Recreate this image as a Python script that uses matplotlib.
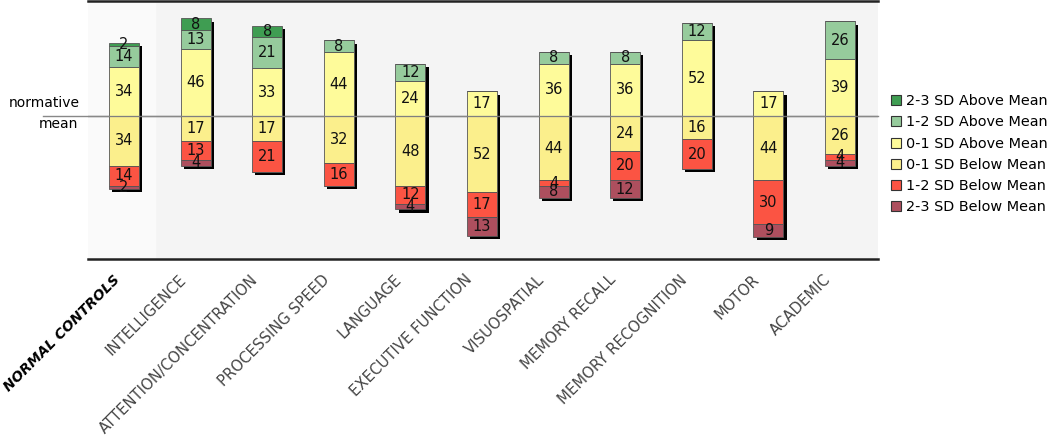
import matplotlib
matplotlib.use("Agg")
import matplotlib.pyplot as plt
from matplotlib.patches import Patch

# domains (first one is the control group)
domains = ["NORMAL CONTROLS", "INTELLIGENCE", "ATTENTION/CONCENTRATION",
           "PROCESSING SPEED", "LANGUAGE", "EXECUTIVE FUNCTION", "VISUOSPATIAL",
           "MEMORY RECALL", "MEMORY RECOGNITION", "MOTOR", "ACADEMIC"]

# percent of people in each band, above the mean
above_0_1 = [34, 46, 33, 44, 24, 17, 36, 36, 52, 17, 39]
above_1_2 = [14, 13, 21, 8, 12, 0, 8, 8, 12, 0, 26]
above_2_3 = [2, 8, 8, 0, 0, 0, 0, 0, 0, 0, 0]
# and below the mean
below_0_1 = [34, 17, 17, 32, 48, 52, 44, 24, 16, 44, 26]
below_1_2 = [14, 13, 21, 16, 12, 17, 4, 20, 20, 30, 4]
below_2_3 = [2, 4, 0, 0, 4, 13, 8, 12, 0, 9, 4]

labels = ["2-3 SD Above Mean", "1-2 SD Above Mean", "0-1 SD Above Mean",
          "0-1 SD Below Mean", "1-2 SD Below Mean", "2-3 SD Below Mean"]
colors = ["#3f9d52", "#96cb9c", "#fefb9a", "#fbef8c", "#fb5443", "#ad4f5e"]

plt.rcParams['font.family'] = ['DejaVu Sans']

fig = plt.figure(figsize=(10.5, 4.43), dpi=100)
ax = fig.add_axes([88/1050, 1-259/443, 790/1050, 258/443])
ax.set_facecolor("#f4f4f4")
ax.set_xlim(-0.503, 10.53)
ax.set_ylim(-98, 79)
ax.axvspan(-0.503, 0.43, color="#fafafa", zorder=0)

x = list(range(len(domains)))
w = 0.42
dx, dy = 0.045, 2.2

ax.plot([-0.057, 1], [0, 0], color="#888888", lw=1,
        transform=ax.get_yaxis_transform(), clip_on=False, zorder=1)

# drop shadows
tops = [a + b + c for a, b, c in zip(above_0_1, above_1_2, above_2_3)]
bots = [a + b + c for a, b, c in zip(below_0_1, below_1_2, below_2_3)]
ax.bar([i + dx for i in x], [t + b for t, b in zip(tops, bots)], w,
       bottom=[-b - dy for b in bots], color="black", zorder=2)

def stack(vals_list, sign, cols):
    base = [0] * len(x)
    for vals, c in zip(vals_list, cols):
        h = [sign * v for v in vals]
        ax.bar(x, h, w, bottom=base, color=c, edgecolor="#555555",
               linewidth=0.6, zorder=3)
        for i, v in enumerate(vals):
            if v > 0:
                ax.text(i, base[i] + sign * v / 2, str(v), ha="center",
                        va="center", fontsize=10.5, color="#111111", zorder=4)
        base = [b + hh for b, hh in zip(base, h)]

stack([above_0_1, above_1_2, above_2_3], 1, [colors[2], colors[1], colors[0]])
stack([below_0_1, below_1_2, below_2_3], -1, [colors[3], colors[4], colors[5]])

ax.axhline(0, color="#888888", lw=1, zorder=3.5, alpha=0.8)

for s in ["left", "right"]:
    ax.spines[s].set_visible(False)
for s in ["top", "bottom"]:
    ax.spines[s].set_linewidth(1.8)
    ax.spines[s].set_color("#222222")
ax.set_yticks([])
ax.set_xticks([])

for i, d in enumerate(domains):
    if i == 0:
        ax.text(i - 0.16, -107, d, rotation=45, ha="right", va="top",
                rotation_mode="anchor", fontsize=10.1, fontweight="bold",
                style="italic", color="black")
    else:
        ax.text(i - 0.24, -107, d, rotation=45, ha="right", va="top",
                rotation_mode="anchor", fontsize=10.7, color="#444444")

fig.text(80/1050, 1-103/443, "normative", ha="right", va="center", fontsize=10)
fig.text(78/1050, 1-124/443, "mean", ha="right", va="center", fontsize=10)

handles = [Patch(facecolor=c, edgecolor="#333333", linewidth=0.8) for c in colors]
fig.legend(handles, labels, loc="upper left", bbox_to_anchor=(884/1050, 1-87/443),
           frameon=False, fontsize=10.4, handlelength=0.7, handleheight=0.7,
           handletextpad=0.3, labelspacing=0.5, borderpad=0)

fig.savefig("out.png", dpi=100)
